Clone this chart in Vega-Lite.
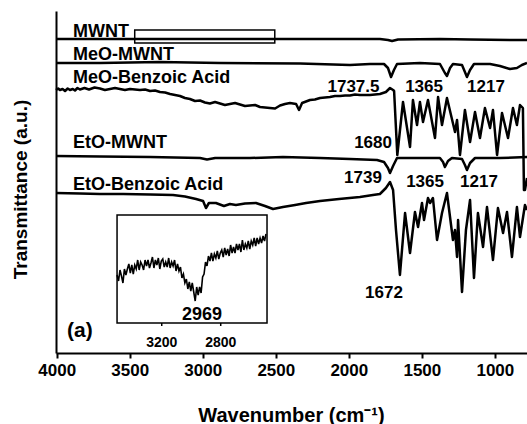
{
  "$schema": "https://vega.github.io/schema/vega-lite/v6.json",
  "width": 471,
  "height": 342,
  "autosize": "none",
  "padding": {"left": 56, "top": 11, "right": 0, "bottom": 71},
  "background": "white",
  "config": {"view": {"stroke": null}, "font": "Liberation Sans"},
  "datasets": {
    "spectra": [
      {"s": "MWNT", "w": 4005, "v": 314}, {"s": "MWNT", "w": 3019, "v": 314}, {"s": "MWNT", "w": 1787, "v": 314}, {"s": "MWNT", "w": 1732, "v": 313}, {"s": "MWNT", "w": 1704, "v": 312}, {"s": "MWNT", "w": 1663, "v": 313.5}, {"s": "MWNT", "w": 1376, "v": 314}, {"s": "MWNT", "w": 1170, "v": 313.5}, {"s": "MWNT", "w": 897, "v": 313}, {"s": "MWNT", "w": 780, "v": 313},

      {"s": "MeO-MWNT", "w": 4005, "v": 290}, {"s": "MeO-MWNT", "w": 3704, "v": 290}, {"s": "MeO-MWNT", "w": 3293, "v": 291}, {"s": "MeO-MWNT", "w": 2882, "v": 290}, {"s": "MeO-MWNT", "w": 2334, "v": 289.5}, {"s": "MeO-MWNT", "w": 1992, "v": 288}, {"s": "MeO-MWNT", "w": 1855, "v": 289}, {"s": "MeO-MWNT", "w": 1759, "v": 289}, {"s": "MeO-MWNT", "w": 1732, "v": 285}, {"s": "MeO-MWNT", "w": 1711, "v": 276}, {"s": "MeO-MWNT", "w": 1691, "v": 283}, {"s": "MeO-MWNT", "w": 1670, "v": 289}, {"s": "MeO-MWNT", "w": 1513, "v": 290}, {"s": "MeO-MWNT", "w": 1376, "v": 289}, {"s": "MeO-MWNT", "w": 1342, "v": 280}, {"s": "MeO-MWNT", "w": 1328, "v": 277}, {"s": "MeO-MWNT", "w": 1307, "v": 285}, {"s": "MeO-MWNT", "w": 1287, "v": 289}, {"s": "MeO-MWNT", "w": 1225, "v": 288}, {"s": "MeO-MWNT", "w": 1205, "v": 281}, {"s": "MeO-MWNT", "w": 1191, "v": 276}, {"s": "MeO-MWNT", "w": 1170, "v": 283}, {"s": "MeO-MWNT", "w": 1143, "v": 289}, {"s": "MeO-MWNT", "w": 1033, "v": 289}, {"s": "MeO-MWNT", "w": 965, "v": 287}, {"s": "MeO-MWNT", "w": 897, "v": 284}, {"s": "MeO-MWNT", "w": 849, "v": 285}, {"s": "MeO-MWNT", "w": 815, "v": 288}, {"s": "MeO-MWNT", "w": 780, "v": 290},

      {"s": "MeO-Benzoic Acid", "w": 4005, "v": 263}, {"s": "MeO-Benzoic Acid", "w": 3990, "v": 264.5}, {"s": "MeO-Benzoic Acid", "w": 3978, "v": 263}, {"s": "MeO-Benzoic Acid", "w": 3960, "v": 264}, {"s": "MeO-Benzoic Acid", "w": 3943, "v": 262}, {"s": "MeO-Benzoic Acid", "w": 3925, "v": 264.5}, {"s": "MeO-Benzoic Acid", "w": 3909, "v": 263}, {"s": "MeO-Benzoic Acid", "w": 3890, "v": 264}, {"s": "MeO-Benzoic Acid", "w": 3875, "v": 262.5}, {"s": "MeO-Benzoic Acid", "w": 3858, "v": 265}, {"s": "MeO-Benzoic Acid", "w": 3841, "v": 263.5}, {"s": "MeO-Benzoic Acid", "w": 3810, "v": 265}, {"s": "MeO-Benzoic Acid", "w": 3779, "v": 263.5}, {"s": "MeO-Benzoic Acid", "w": 3741, "v": 265.5}, {"s": "MeO-Benzoic Acid", "w": 3704, "v": 264.5}, {"s": "MeO-Benzoic Acid", "w": 3670, "v": 263}, {"s": "MeO-Benzoic Acid", "w": 3635, "v": 264}, {"s": "MeO-Benzoic Acid", "w": 3601, "v": 265}, {"s": "MeO-Benzoic Acid", "w": 3567, "v": 264}, {"s": "MeO-Benzoic Acid", "w": 3533, "v": 263}, {"s": "MeO-Benzoic Acid", "w": 3498, "v": 264}, {"s": "MeO-Benzoic Acid", "w": 3464, "v": 263.5}, {"s": "MeO-Benzoic Acid", "w": 3430, "v": 263}, {"s": "MeO-Benzoic Acid", "w": 3395, "v": 263.5}, {"s": "MeO-Benzoic Acid", "w": 3361, "v": 262}, {"s": "MeO-Benzoic Acid", "w": 3327, "v": 262.5}, {"s": "MeO-Benzoic Acid", "w": 3293, "v": 261}, {"s": "MeO-Benzoic Acid", "w": 3258, "v": 260.5}, {"s": "MeO-Benzoic Acid", "w": 3224, "v": 259}, {"s": "MeO-Benzoic Acid", "w": 3190, "v": 258}, {"s": "MeO-Benzoic Acid", "w": 3156, "v": 257}, {"s": "MeO-Benzoic Acid", "w": 3122, "v": 255}, {"s": "MeO-Benzoic Acid", "w": 3088, "v": 254}, {"s": "MeO-Benzoic Acid", "w": 3053, "v": 252}, {"s": "MeO-Benzoic Acid", "w": 3019, "v": 252.5}, {"s": "MeO-Benzoic Acid", "w": 2985, "v": 250.5}, {"s": "MeO-Benzoic Acid", "w": 2951, "v": 249.5}, {"s": "MeO-Benzoic Acid", "w": 2916, "v": 251}, {"s": "MeO-Benzoic Acid", "w": 2882, "v": 249.5}, {"s": "MeO-Benzoic Acid", "w": 2848, "v": 248}, {"s": "MeO-Benzoic Acid", "w": 2814, "v": 249}, {"s": "MeO-Benzoic Acid", "w": 2779, "v": 250}, {"s": "MeO-Benzoic Acid", "w": 2745, "v": 248.5}, {"s": "MeO-Benzoic Acid", "w": 2711, "v": 247}, {"s": "MeO-Benzoic Acid", "w": 2677, "v": 247.5}, {"s": "MeO-Benzoic Acid", "w": 2642, "v": 248}, {"s": "MeO-Benzoic Acid", "w": 2608, "v": 246}, {"s": "MeO-Benzoic Acid", "w": 2574, "v": 245.5}, {"s": "MeO-Benzoic Acid", "w": 2540, "v": 245}, {"s": "MeO-Benzoic Acid", "w": 2505, "v": 244.5}, {"s": "MeO-Benzoic Acid", "w": 2471, "v": 247.5}, {"s": "MeO-Benzoic Acid", "w": 2437, "v": 249}, {"s": "MeO-Benzoic Acid", "w": 2403, "v": 250}, {"s": "MeO-Benzoic Acid", "w": 2361, "v": 249}, {"s": "MeO-Benzoic Acid", "w": 2341, "v": 243}, {"s": "MeO-Benzoic Acid", "w": 2320, "v": 250}, {"s": "MeO-Benzoic Acid", "w": 2266, "v": 253}, {"s": "MeO-Benzoic Acid", "w": 2232, "v": 253.5}, {"s": "MeO-Benzoic Acid", "w": 2197, "v": 255}, {"s": "MeO-Benzoic Acid", "w": 2163, "v": 255.5}, {"s": "MeO-Benzoic Acid", "w": 2129, "v": 256}, {"s": "MeO-Benzoic Acid", "w": 2095, "v": 257}, {"s": "MeO-Benzoic Acid", "w": 2060, "v": 257}, {"s": "MeO-Benzoic Acid", "w": 2026, "v": 257.5}, {"s": "MeO-Benzoic Acid", "w": 1992, "v": 257.5}, {"s": "MeO-Benzoic Acid", "w": 1958, "v": 258.5}, {"s": "MeO-Benzoic Acid", "w": 1924, "v": 258}, {"s": "MeO-Benzoic Acid", "w": 1890, "v": 258}, {"s": "MeO-Benzoic Acid", "w": 1855, "v": 258}, {"s": "MeO-Benzoic Acid", "w": 1821, "v": 258.5}, {"s": "MeO-Benzoic Acid", "w": 1787, "v": 259}, {"s": "MeO-Benzoic Acid", "w": 1746, "v": 261}, {"s": "MeO-Benzoic Acid", "w": 1718, "v": 265}, {"s": "MeO-Benzoic Acid", "w": 1697, "v": 263}, {"s": "MeO-Benzoic Acid", "w": 1690, "v": 262}, {"s": "MeO-Benzoic Acid", "w": 1668, "v": 198}, {"s": "MeO-Benzoic Acid", "w": 1629, "v": 251}, {"s": "MeO-Benzoic Acid", "w": 1581, "v": 206}, {"s": "MeO-Benzoic Acid", "w": 1561, "v": 253}, {"s": "MeO-Benzoic Acid", "w": 1533, "v": 228}, {"s": "MeO-Benzoic Acid", "w": 1513, "v": 251}, {"s": "MeO-Benzoic Acid", "w": 1492, "v": 231}, {"s": "MeO-Benzoic Acid", "w": 1458, "v": 253}, {"s": "MeO-Benzoic Acid", "w": 1410, "v": 215}, {"s": "MeO-Benzoic Acid", "w": 1389, "v": 256}, {"s": "MeO-Benzoic Acid", "w": 1362, "v": 228}, {"s": "MeO-Benzoic Acid", "w": 1328, "v": 255}, {"s": "MeO-Benzoic Acid", "w": 1273, "v": 221}, {"s": "MeO-Benzoic Acid", "w": 1259, "v": 233}, {"s": "MeO-Benzoic Acid", "w": 1239, "v": 198}, {"s": "MeO-Benzoic Acid", "w": 1205, "v": 243}, {"s": "MeO-Benzoic Acid", "w": 1170, "v": 211}, {"s": "MeO-Benzoic Acid", "w": 1136, "v": 241}, {"s": "MeO-Benzoic Acid", "w": 1102, "v": 215}, {"s": "MeO-Benzoic Acid", "w": 1068, "v": 245}, {"s": "MeO-Benzoic Acid", "w": 1033, "v": 225}, {"s": "MeO-Benzoic Acid", "w": 1013, "v": 243}, {"s": "MeO-Benzoic Acid", "w": 985, "v": 198}, {"s": "MeO-Benzoic Acid", "w": 951, "v": 240}, {"s": "MeO-Benzoic Acid", "w": 910, "v": 215}, {"s": "MeO-Benzoic Acid", "w": 876, "v": 245}, {"s": "MeO-Benzoic Acid", "w": 849, "v": 228}, {"s": "MeO-Benzoic Acid", "w": 828, "v": 248}, {"s": "MeO-Benzoic Acid", "w": 808, "v": 245}, {"s": "MeO-Benzoic Acid", "w": 801, "v": 163}, {"s": "MeO-Benzoic Acid", "w": 794, "v": 163}, {"s": "MeO-Benzoic Acid", "w": 780, "v": 175},

      {"s": "EtO-MWNT", "w": 4005, "v": 197}, {"s": "EtO-MWNT", "w": 3704, "v": 196.5}, {"s": "EtO-MWNT", "w": 3361, "v": 196}, {"s": "EtO-MWNT", "w": 3019, "v": 195}, {"s": "EtO-MWNT", "w": 2971, "v": 193.5}, {"s": "EtO-MWNT", "w": 2915, "v": 195}, {"s": "EtO-MWNT", "w": 2677, "v": 195}, {"s": "EtO-MWNT", "w": 2451, "v": 196}, {"s": "EtO-MWNT", "w": 2197, "v": 195}, {"s": "EtO-MWNT", "w": 1992, "v": 194}, {"s": "EtO-MWNT", "w": 1807, "v": 193}, {"s": "EtO-MWNT", "w": 1759, "v": 191}, {"s": "EtO-MWNT", "w": 1732, "v": 185}, {"s": "EtO-MWNT", "w": 1718, "v": 180}, {"s": "EtO-MWNT", "w": 1697, "v": 187}, {"s": "EtO-MWNT", "w": 1670, "v": 195}, {"s": "EtO-MWNT", "w": 1513, "v": 195}, {"s": "EtO-MWNT", "w": 1376, "v": 195}, {"s": "EtO-MWNT", "w": 1355, "v": 191}, {"s": "EtO-MWNT", "w": 1342, "v": 186}, {"s": "EtO-MWNT", "w": 1321, "v": 192}, {"s": "EtO-MWNT", "w": 1294, "v": 195}, {"s": "EtO-MWNT", "w": 1225, "v": 194}, {"s": "EtO-MWNT", "w": 1205, "v": 188}, {"s": "EtO-MWNT", "w": 1191, "v": 183}, {"s": "EtO-MWNT", "w": 1170, "v": 190}, {"s": "EtO-MWNT", "w": 1136, "v": 195}, {"s": "EtO-MWNT", "w": 965, "v": 195}, {"s": "EtO-MWNT", "w": 780, "v": 196},

      {"s": "EtO-Benzoic Acid", "w": 4005, "v": 160}, {"s": "EtO-Benzoic Acid", "w": 3841, "v": 159.5}, {"s": "EtO-Benzoic Acid", "w": 3704, "v": 159}, {"s": "EtO-Benzoic Acid", "w": 3546, "v": 159}, {"s": "EtO-Benzoic Acid", "w": 3361, "v": 158.5}, {"s": "EtO-Benzoic Acid", "w": 3204, "v": 158}, {"s": "EtO-Benzoic Acid", "w": 3122, "v": 156.5}, {"s": "EtO-Benzoic Acid", "w": 3046, "v": 154}, {"s": "EtO-Benzoic Acid", "w": 2998, "v": 152}, {"s": "EtO-Benzoic Acid", "w": 2978, "v": 145}, {"s": "EtO-Benzoic Acid", "w": 2958, "v": 150}, {"s": "EtO-Benzoic Acid", "w": 2910, "v": 150}, {"s": "EtO-Benzoic Acid", "w": 2855, "v": 147}, {"s": "EtO-Benzoic Acid", "w": 2814, "v": 149}, {"s": "EtO-Benzoic Acid", "w": 2773, "v": 148}, {"s": "EtO-Benzoic Acid", "w": 2711, "v": 149.5}, {"s": "EtO-Benzoic Acid", "w": 2636, "v": 150}, {"s": "EtO-Benzoic Acid", "w": 2574, "v": 147}, {"s": "EtO-Benzoic Acid", "w": 2519, "v": 144}, {"s": "EtO-Benzoic Acid", "w": 2451, "v": 146}, {"s": "EtO-Benzoic Acid", "w": 2368, "v": 148}, {"s": "EtO-Benzoic Acid", "w": 2293, "v": 150}, {"s": "EtO-Benzoic Acid", "w": 2197, "v": 152}, {"s": "EtO-Benzoic Acid", "w": 2067, "v": 154}, {"s": "EtO-Benzoic Acid", "w": 1924, "v": 156}, {"s": "EtO-Benzoic Acid", "w": 1835, "v": 158}, {"s": "EtO-Benzoic Acid", "w": 1787, "v": 159}, {"s": "EtO-Benzoic Acid", "w": 1746, "v": 165}, {"s": "EtO-Benzoic Acid", "w": 1718, "v": 171}, {"s": "EtO-Benzoic Acid", "w": 1697, "v": 163}, {"s": "EtO-Benzoic Acid", "w": 1677, "v": 123}, {"s": "EtO-Benzoic Acid", "w": 1650, "v": 78}, {"s": "EtO-Benzoic Acid", "w": 1615, "v": 140}, {"s": "EtO-Benzoic Acid", "w": 1581, "v": 100}, {"s": "EtO-Benzoic Acid", "w": 1547, "v": 141}, {"s": "EtO-Benzoic Acid", "w": 1526, "v": 126}, {"s": "EtO-Benzoic Acid", "w": 1499, "v": 150}, {"s": "EtO-Benzoic Acid", "w": 1485, "v": 133}, {"s": "EtO-Benzoic Acid", "w": 1458, "v": 155}, {"s": "EtO-Benzoic Acid", "w": 1444, "v": 150}, {"s": "EtO-Benzoic Acid", "w": 1424, "v": 155}, {"s": "EtO-Benzoic Acid", "w": 1396, "v": 113}, {"s": "EtO-Benzoic Acid", "w": 1362, "v": 140}, {"s": "EtO-Benzoic Acid", "w": 1328, "v": 160}, {"s": "EtO-Benzoic Acid", "w": 1287, "v": 113}, {"s": "EtO-Benzoic Acid", "w": 1273, "v": 123}, {"s": "EtO-Benzoic Acid", "w": 1259, "v": 96}, {"s": "EtO-Benzoic Acid", "w": 1252, "v": 133}, {"s": "EtO-Benzoic Acid", "w": 1225, "v": 61}, {"s": "EtO-Benzoic Acid", "w": 1198, "v": 123}, {"s": "EtO-Benzoic Acid", "w": 1170, "v": 153}, {"s": "EtO-Benzoic Acid", "w": 1143, "v": 75}, {"s": "EtO-Benzoic Acid", "w": 1116, "v": 140}, {"s": "EtO-Benzoic Acid", "w": 1081, "v": 106}, {"s": "EtO-Benzoic Acid", "w": 1054, "v": 146}, {"s": "EtO-Benzoic Acid", "w": 1013, "v": 93}, {"s": "EtO-Benzoic Acid", "w": 979, "v": 145}, {"s": "EtO-Benzoic Acid", "w": 944, "v": 120}, {"s": "EtO-Benzoic Acid", "w": 917, "v": 141}, {"s": "EtO-Benzoic Acid", "w": 883, "v": 96}, {"s": "EtO-Benzoic Acid", "w": 849, "v": 146}, {"s": "EtO-Benzoic Acid", "w": 828, "v": 116}, {"s": "EtO-Benzoic Acid", "w": 794, "v": 148}, {"s": "EtO-Benzoic Acid", "w": 780, "v": 143}
    ],
    "inset": [
      {"w": 3503, "v": 78}, {"w": 3493, "v": 72}, {"w": 3483, "v": 83}, {"w": 3473, "v": 77}, {"w": 3463, "v": 70}, {"w": 3453, "v": 84}, {"w": 3443, "v": 78}, {"w": 3433, "v": 84}, {"w": 3423, "v": 89}, {"w": 3413, "v": 80}, {"w": 3403, "v": 88}, {"w": 3393, "v": 79}, {"w": 3383, "v": 88}, {"w": 3373, "v": 84}, {"w": 3363, "v": 93}, {"w": 3353, "v": 83}, {"w": 3343, "v": 91}, {"w": 3333, "v": 88}, {"w": 3323, "v": 83}, {"w": 3313, "v": 93}, {"w": 3303, "v": 87}, {"w": 3293, "v": 93}, {"w": 3283, "v": 85}, {"w": 3273, "v": 90}, {"w": 3263, "v": 96}, {"w": 3253, "v": 85}, {"w": 3243, "v": 93}, {"w": 3233, "v": 88}, {"w": 3223, "v": 95}, {"w": 3213, "v": 84}, {"w": 3203, "v": 92}, {"w": 3193, "v": 94}, {"w": 3183, "v": 86}, {"w": 3173, "v": 91}, {"w": 3163, "v": 86}, {"w": 3153, "v": 95}, {"w": 3143, "v": 85}, {"w": 3133, "v": 91}, {"w": 3123, "v": 87}, {"w": 3113, "v": 93}, {"w": 3103, "v": 82}, {"w": 3093, "v": 89}, {"w": 3083, "v": 82}, {"w": 3073, "v": 86}, {"w": 3063, "v": 75}, {"w": 3053, "v": 79}, {"w": 3043, "v": 70}, {"w": 3033, "v": 74}, {"w": 3023, "v": 64}, {"w": 3013, "v": 71}, {"w": 3003, "v": 62}, {"w": 2993, "v": 70}, {"w": 2983, "v": 61}, {"w": 2973, "v": 52}, {"w": 2963, "v": 66}, {"w": 2953, "v": 58}, {"w": 2943, "v": 66}, {"w": 2933, "v": 60}, {"w": 2923, "v": 76}, {"w": 2913, "v": 79}, {"w": 2903, "v": 91}, {"w": 2893, "v": 87}, {"w": 2883, "v": 97}, {"w": 2873, "v": 92}, {"w": 2863, "v": 100}, {"w": 2853, "v": 92}, {"w": 2843, "v": 99}, {"w": 2833, "v": 95}, {"w": 2823, "v": 102}, {"w": 2813, "v": 94}, {"w": 2803, "v": 100}, {"w": 2793, "v": 103}, {"w": 2783, "v": 96}, {"w": 2773, "v": 105}, {"w": 2763, "v": 98}, {"w": 2753, "v": 104}, {"w": 2743, "v": 97}, {"w": 2733, "v": 108}, {"w": 2723, "v": 100}, {"w": 2713, "v": 106}, {"w": 2703, "v": 100}, {"w": 2693, "v": 109}, {"w": 2683, "v": 103}, {"w": 2673, "v": 109}, {"w": 2663, "v": 101}, {"w": 2653, "v": 113}, {"w": 2643, "v": 103}, {"w": 2633, "v": 109}, {"w": 2623, "v": 105}, {"w": 2613, "v": 112}, {"w": 2603, "v": 104}, {"w": 2593, "v": 112}, {"w": 2583, "v": 108}, {"w": 2573, "v": 115}, {"w": 2563, "v": 107}, {"w": 2553, "v": 115}, {"w": 2543, "v": 109}, {"w": 2533, "v": 115}, {"w": 2523, "v": 110}, {"w": 2513, "v": 117}, {"w": 2503, "v": 112}, {"w": 2493, "v": 119}
    ],
    "labels": [
      {"kind": "series", "t": "MWNT", "w": 3889, "v": 316},
      {"kind": "series", "t": "MeO-MWNT", "w": 3889, "v": 293},
      {"kind": "series", "t": "MeO-Benzoic Acid", "w": 3889, "v": 270},
      {"kind": "series", "t": "EtO-MWNT", "w": 3889, "v": 205},
      {"kind": "series", "t": "EtO-Benzoic Acid", "w": 3889, "v": 163},
      {"kind": "panel", "t": "(a)", "w": 3930, "v": 16},
      {"kind": "peak", "t": "1737.5", "w": 1968, "v": 261},
      {"kind": "peak", "t": "1365", "w": 1485, "v": 261},
      {"kind": "peak", "t": "1217", "w": 1061, "v": 261},
      {"kind": "peak", "t": "1680", "w": 1834, "v": 205},
      {"kind": "peak", "t": "1739", "w": 1903, "v": 170},
      {"kind": "peak", "t": "1365", "w": 1478, "v": 166},
      {"kind": "peak", "t": "1217", "w": 1109, "v": 166},
      {"kind": "peak", "t": "1672", "w": 1759, "v": 55}
    ]
  },
  "layer": [
    {
      "layer": [
        {
          "data": {"name": "spectra"},
          "mark": {"type": "line", "color": "black", "strokeWidth": 2.5, "strokeJoin": "round"},
          "encoding": {
            "x": {
              "field": "w", "type": "quantitative",
              "scale": {"domain": [780, 4005], "reverse": true, "nice": false, "zero": false},
              "axis": {
                "values": [4000, 3500, 3000, 2500, 2000, 1500, 1000],
                "format": "d", "grid": false, "labelFlush": false,
                "domainColor": "black", "domainWidth": 2,
                "tickColor": "black", "tickWidth": 2, "tickSize": 5,
                "labelFont": "Liberation Sans", "labelFontSize": 17, "labelFontWeight": "bold", "labelColor": "black", "labelPadding": 4,
                "title": "Wavenumber (cm⁻¹)",
                "titleFont": "Liberation Sans", "titleFontSize": 20, "titleFontWeight": "bold", "titleColor": "black",
                "titleX": 235, "titleY": 68, "titleBaseline": "alphabetic", "titleAlign": "center"
              }
            },
            "y": {
              "field": "v", "type": "quantitative",
              "scale": {"domain": [0, 342], "nice": false, "zero": false},
              "axis": {
                "ticks": false, "labels": false, "grid": false,
                "domainColor": "black", "domainWidth": 2,
                "title": "Transmittance (a.u.)",
                "titleFont": "Liberation Sans", "titleFontSize": 19, "titleFontWeight": "bold", "titleColor": "black",
                "titleX": -36, "titleY": 178, "titleAngle": 270, "titleBaseline": "middle", "titleAlign": "center"
              }
            },
            "detail": {"field": "s", "type": "nominal"}
          }
        },
        {
          "mark": {"type": "rule", "color": "black", "strokeWidth": 2},
          "encoding": {"y": {"datum": 342}}
        },
        {
          "data": {"values": [{"a": 3466, "b": 2507, "lo": 310, "hi": 323}]},
          "mark": {"type": "rect", "filled": false, "stroke": "black", "strokeWidth": 1.5},
          "encoding": {
            "x": {"field": "a", "type": "quantitative"},
            "x2": {"field": "b"},
            "y": {"field": "lo", "type": "quantitative"},
            "y2": {"field": "hi"}
          }
        },
        {
          "data": {"name": "labels"},
          "transform": [{"filter": "datum.kind === 'series'"}],
          "mark": {"type": "text", "align": "left", "baseline": "alphabetic", "font": "Liberation Sans", "fontSize": 18, "fontWeight": "bold", "color": "black"},
          "encoding": {
            "x": {"field": "w", "type": "quantitative"},
            "y": {"field": "v", "type": "quantitative"},
            "text": {"field": "t"}
          }
        },
        {
          "data": {"name": "labels"},
          "transform": [{"filter": "datum.kind === 'panel'"}],
          "mark": {"type": "text", "align": "left", "baseline": "alphabetic", "font": "Liberation Sans", "fontSize": 21, "fontWeight": "bold", "color": "black"},
          "encoding": {
            "x": {"field": "w", "type": "quantitative"},
            "y": {"field": "v", "type": "quantitative"},
            "text": {"field": "t"}
          }
        },
        {
          "data": {"name": "labels"},
          "transform": [{"filter": "datum.kind === 'peak'"}],
          "mark": {"type": "text", "align": "center", "baseline": "alphabetic", "font": "Liberation Sans", "fontSize": 17, "fontWeight": "bold", "color": "black"},
          "encoding": {
            "x": {"field": "w", "type": "quantitative"},
            "y": {"field": "v", "type": "quantitative"},
            "text": {"field": "t"}
          }
        }
      ]
    },
    {
      "layer": [
        {
          "data": {"values": [{"a": 3503, "b": 2486, "lo": 30, "hi": 138}]},
          "mark": {"type": "rect", "filled": false, "stroke": "black", "strokeWidth": 1.5},
          "encoding": {
            "x": {"field": "a", "type": "quantitative", "scale": {"domain": [723, 3917], "reverse": true, "nice": false, "zero": false}, "axis": null},
            "x2": {"field": "b"},
            "y": {"field": "lo", "type": "quantitative", "scale": {"domain": [0, 342], "nice": false, "zero": false}, "axis": null},
            "y2": {"field": "hi"}
          }
        },
        {
          "data": {"values": [{"w": 3200, "lo": 27, "hi": 30}, {"w": 2800, "lo": 27, "hi": 30}]},
          "mark": {"type": "rule", "color": "black", "strokeWidth": 1.5},
          "encoding": {
            "x": {"field": "w", "type": "quantitative"},
            "y": {"field": "lo", "type": "quantitative"},
            "y2": {"field": "hi"}
          }
        },
        {
          "data": {"name": "inset"},
          "mark": {"type": "line", "color": "black", "strokeWidth": 1.6},
          "encoding": {
            "x": {"field": "w", "type": "quantitative"},
            "y": {"field": "v", "type": "quantitative"}
          }
        },
        {
          "data": {"values": [{"t": "3200", "w": 3200, "v": 6}, {"t": "2800", "w": 2800, "v": 6}]},
          "mark": {"type": "text", "align": "center", "baseline": "alphabetic", "font": "Liberation Sans", "fontSize": 14, "fontWeight": "bold", "color": "black"},
          "encoding": {
            "x": {"field": "w", "type": "quantitative"},
            "y": {"field": "v", "type": "quantitative"},
            "text": {"field": "t"}
          }
        },
        {
          "data": {"values": [{"t": "2969", "w": 2927, "v": 33}]},
          "mark": {"type": "text", "align": "center", "baseline": "alphabetic", "font": "Liberation Sans", "fontSize": 18, "fontWeight": "bold", "color": "black"},
          "encoding": {
            "x": {"field": "w", "type": "quantitative"},
            "y": {"field": "v", "type": "quantitative"},
            "text": {"field": "t"}
          }
        }
      ]
    }
  ],
  "resolve": {"scale": {"x": "independent", "y": "independent"}}
}
